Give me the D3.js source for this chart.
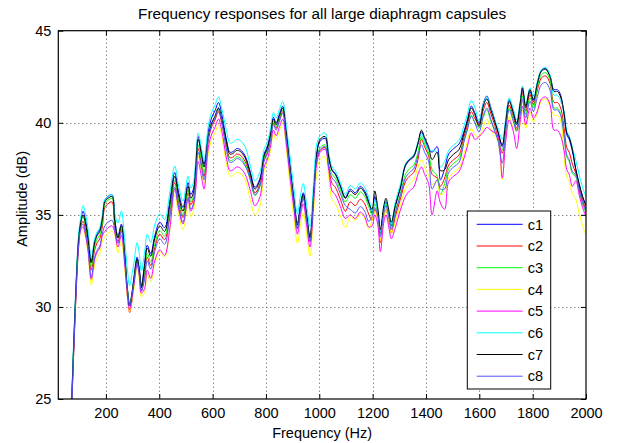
<!DOCTYPE html>
<html><head><meta charset="utf-8">
<script src="https://cdn.jsdelivr.net/npm/d3@7"></script>
<style>
html,body{margin:0;padding:0;background:#fff;}
text{font-family:"Liberation Sans",Arial,Helvetica,sans-serif;fill:#000;}
</style></head><body>
<svg id="chart" width="618" height="443"></svg>
<script>
const freq = [64,72,83,92,98,106,114,124,133,145,158,168,177,187,196,208,223,233,245,258,270,280,289,297,305,317,325,333,345,355,368,383,402,420,439,458,473,489,508,518,528,537,546,559,568,584,597,609,622,634,653,665,678,690,703,722,740,759,778,793,805,818,828,838,850,863,875,890,905,918,930,940,953,965,980,990,1003,1022,1035,1048,1060,1079,1098,1116,1135,1154,1170,1185,1198,1208,1220,1229,1242,1250,1260,1270,1285,1304,1323,1338,1354,1370,1383,1395,1410,1423,1442,1454,1470,1485,1504,1524,1543,1555,1570,1583,1599,1615,1628,1643,1658,1670,1686,1699,1712,1728,1740,1753,1762,1774,1790,1803,1818,1833,1849,1865,1880,1893,1905,1918,1928,1937,1949,1962,1974,1987,2000];

const c1 = [22.1,25.1,29.4,32.4,33.8,34.7,35.2,34.7,33.9,32.5,33.6,34.0,34.2,34.9,35.8,36.0,36.1,34.8,33.85,34.5,33.0,31.1,30.15,30.7,31.6,32.7,32.1,31.15,32.35,33.35,32.9,33.85,34.6,34.3,35.7,37.3,36.2,35.4,36.75,36.1,36.4,37.75,39.25,38.35,37.75,39.55,40.3,40.65,41.1,40.5,39.0,38.4,38.45,38.6,38.55,38.2,37.4,36.5,37.0,38.3,38.7,39.5,40.3,40.0,40.45,40.9,39.7,37.7,35.9,34.55,35.6,36.2,35.0,33.85,36.5,38.3,39.0,39.15,38.1,37.45,37.25,36.6,35.95,36.4,36.2,36.55,36.3,35.75,35.1,36.0,35.1,34.0,35.3,35.7,35.1,34.4,35.5,36.45,37.65,37.95,38.15,38.85,39.5,39.1,38.6,38.4,38.7,36.9,37.5,38.3,38.6,38.85,39.55,40.15,40.9,40.55,40.0,41.05,41.45,40.85,40.15,39.5,38.7,40.1,41.25,40.6,40.0,40.95,41.8,40.8,41.7,41.15,42.2,42.85,42.95,42.55,41.8,41.8,41.5,40.4,39.35,39.1,38.45,37.45,36.7,36.0,35.5];
const c2 = [21.8,24.8,29.1,32.1,33.5,34.4,34.65,34.15,33.35,32.0,33.1,33.5,33.7,34.4,35.4,35.6,35.7,34.4,33.55,34.2,32.7,30.65,29.7,30.25,31.35,32.45,31.85,30.9,31.7,32.7,32.25,33.2,33.95,33.65,35.05,36.75,35.65,34.85,36.2,35.55,35.85,37.1,38.6,37.7,37.1,39.05,39.8,40.15,40.6,40.0,38.7,38.1,38.15,38.3,38.25,37.9,37.1,36.2,36.7,38.0,38.4,39.2,40.0,39.7,40.15,40.6,39.4,37.4,35.6,34.25,35.3,35.9,34.7,33.55,36.2,38.0,38.5,38.65,37.6,36.7,36.5,35.85,35.2,35.7,35.5,35.85,35.6,35.05,34.7,35.3,34.7,33.5,34.9,35.3,34.7,34.0,34.9,35.85,36.8,37.1,37.3,38.0,39.1,38.7,38.2,37.2,37.0,36.55,37.0,37.7,38.0,38.25,39.25,39.85,40.6,40.25,39.9,40.7,41.1,40.5,39.85,39.2,38.35,39.8,40.95,40.3,39.7,40.78,41.63,40.63,41.53,40.98,41.79,42.44,42.54,42.14,41.1,41.1,40.8,39.7,38.65,38.4,37.75,37.25,36.5,35.8,35.3];
const c3 = [22.0,25.0,29.3,32.3,33.7,34.6,34.9,34.4,33.6,32.2,33.3,33.7,33.9,34.6,35.6,35.8,35.9,34.6,33.75,34.4,32.9,31.1,30.15,30.7,31.45,32.55,31.95,31.0,31.9,32.9,32.45,33.4,34.15,33.85,35.25,36.9,35.8,35.0,36.35,35.7,36.0,37.3,38.8,37.9,37.3,39.25,40.0,40.35,40.8,40.2,38.55,37.95,38.0,38.15,38.1,37.75,36.95,36.05,36.55,38.1,38.5,39.3,40.1,39.8,40.25,40.7,39.5,37.5,35.7,34.35,35.4,36.0,34.8,33.65,36.3,38.1,38.65,38.8,37.75,37.2,37.0,36.35,35.7,36.1,35.9,36.25,36.0,35.45,35.0,35.6,35.0,33.9,35.2,35.6,35.0,34.3,35.2,36.15,37.2,37.5,37.7,38.4,39.25,38.85,38.35,37.45,37.1,36.1,36.7,37.5,37.8,38.05,39.05,39.65,40.4,40.05,39.7,40.3,40.7,40.1,39.55,39.1,38.53,39.65,40.8,40.15,39.6,40.6,41.45,40.45,41.35,40.8,41.97,42.62,42.72,42.32,40.8,40.8,40.5,39.2,38.15,37.9,37.25,37.05,36.3,35.6,35.1];
const c4 = [21.5,24.5,28.8,31.8,33.2,34.1,34.2,33.7,32.9,31.2,32.3,32.7,32.9,33.6,33.8,34.0,34.1,33.9,32.95,33.6,32.1,30.7,29.75,30.3,31.0,32.1,31.5,30.55,30.8,31.8,31.35,32.3,33.0,32.7,34.1,36.1,35.0,34.2,35.55,34.9,35.2,36.7,38.2,37.3,36.7,38.35,39.1,39.45,39.9,39.3,37.7,37.1,37.15,37.3,37.25,36.9,35.9,35.0,35.5,37.4,37.8,38.6,39.4,39.1,39.55,40.0,38.8,36.6,34.8,33.45,34.5,35.1,33.9,32.75,35.4,37.2,38.0,38.15,37.1,35.8,35.6,34.95,34.3,34.9,34.7,35.05,34.8,34.25,34.7,35.2,34.7,33.6,34.9,35.3,34.7,34.0,34.6,35.55,36.4,36.7,36.9,37.6,38.0,37.6,37.1,36.65,36.8,36.1,36.2,37.0,37.3,37.55,38.35,38.95,39.7,39.35,39.25,39.8,40.2,39.6,39.25,39.0,36.9,39.2,40.35,39.7,39.54,39.85,40.7,39.7,40.6,40.05,40.55,41.2,41.3,40.9,40.4,40.4,40.1,38.1,37.05,36.8,36.15,35.85,35.1,34.4,33.9];
const c5 = [21.6,24.6,28.9,31.9,33.3,34.2,34.35,33.85,33.05,31.5,32.6,33.0,33.2,33.9,34.1,34.3,34.4,34.05,33.25,33.9,32.4,30.8,29.85,30.4,31.2,32.3,31.7,30.75,31.0,32.0,31.55,32.5,33.1,32.8,34.2,36.4,35.3,34.5,35.85,35.2,35.5,36.4,37.9,37.0,36.4,38.65,39.4,39.75,40.2,39.6,38.0,37.4,37.45,37.6,37.55,37.2,36.4,35.5,36.0,37.6,38.0,38.8,39.6,39.3,39.75,40.2,39.0,37.1,35.3,33.95,35.0,35.6,34.4,33.25,35.9,37.7,38.4,38.55,37.5,36.3,36.1,35.45,34.8,35.0,34.8,35.15,34.9,34.35,34.4,35.0,34.4,33.0,34.6,35.0,34.4,33.7,34.3,35.25,36.0,36.3,36.5,37.2,37.6,37.2,36.7,35.0,36.3,35.65,35.3,36.8,37.1,37.35,38.1,38.7,39.45,39.1,39.25,39.5,39.75,39.6,39.45,39.3,37.0,39.0,40.15,39.5,38.6,40.05,40.9,39.9,40.8,40.25,40.65,41.3,41.4,41.0,39.6,39.6,39.3,38.5,37.45,37.2,36.55,36.85,36.1,35.4,34.9];
const c6 = [22.3,25.3,29.6,32.6,34.0,34.9,35.5,35.0,34.2,32.6,33.7,34.1,34.3,35.0,35.8,36.0,36.1,35.1,34.55,35.2,33.7,32.1,31.15,31.7,32.4,33.5,32.9,31.95,32.95,33.95,33.5,34.45,35.05,34.75,36.15,37.65,36.55,35.75,37.1,36.45,36.75,37.95,39.45,38.55,37.95,39.85,40.6,40.95,41.4,40.8,39.5,38.9,38.95,39.1,39.05,38.7,37.75,36.85,37.35,38.55,38.95,39.75,40.55,40.25,40.7,41.15,39.95,38.2,36.4,35.05,36.1,36.7,35.5,34.35,37.0,38.8,39.3,39.45,38.4,37.6,37.4,36.75,36.1,36.6,36.4,36.75,36.5,35.95,35.2,35.8,35.2,34.1,35.4,35.8,35.2,34.5,35.7,36.65,37.75,38.05,38.25,38.95,39.4,39.0,38.5,38.5,38.4,37.6,37.9,38.5,38.8,39.05,39.85,40.45,41.2,40.85,40.1,41.0,41.4,40.8,40.15,39.7,39.1,40.2,41.35,40.7,40.17,41.15,42.0,41.0,41.9,41.35,42.25,42.9,43.0,42.6,41.5,41.5,41.2,40.6,39.55,39.3,38.65,37.95,37.2,36.5,36.0];
const c7 = [22.0,25.0,29.3,32.3,33.7,34.6,35.0,34.5,33.7,32.4,33.5,33.9,34.1,34.8,35.7,35.9,36.0,34.7,33.75,34.4,32.9,31.0,30.05,30.6,31.5,32.6,32.0,31.05,32.2,33.2,32.75,33.7,34.4,34.1,35.5,37.1,36.0,35.2,36.55,35.9,36.2,37.6,39.1,38.2,37.6,39.25,40.0,40.35,40.8,40.2,38.9,38.3,38.35,38.5,38.45,38.1,37.3,36.4,36.9,38.2,38.6,39.4,40.2,39.9,40.35,40.8,39.6,37.6,35.8,34.45,35.5,36.1,34.9,33.75,36.4,38.2,39.1,39.25,38.2,37.4,37.2,36.55,35.9,36.3,36.1,36.45,36.2,35.65,35.3,36.3,35.3,34.2,35.5,35.9,35.3,34.6,35.5,36.45,37.7,38.0,38.2,38.9,39.6,39.2,38.7,38.0,38.4,37.4,37.45,38.0,38.3,38.55,39.45,40.05,40.8,40.45,39.8,40.9,41.3,40.7,40.05,39.5,38.8,40.0,41.15,40.5,39.9,41.05,41.9,40.9,41.8,41.25,42.15,42.8,42.9,42.5,41.7,41.7,41.4,40.5,39.45,39.2,38.55,37.45,36.7,36.0,35.5];
const c8 = [21.7,24.7,29.0,32.0,33.4,34.3,34.5,34.0,33.2,31.6,32.7,33.1,33.3,34.0,34.4,34.6,34.7,34.2,33.45,34.1,32.6,31.0,30.05,30.6,31.3,32.4,31.8,30.85,31.5,32.5,32.05,33.0,33.7,33.4,34.8,36.5,35.4,34.6,35.95,35.3,35.6,36.9,38.4,37.5,36.9,39.15,39.9,40.25,40.7,40.1,38.45,37.85,37.9,38.05,38.0,37.65,37.0,36.1,36.6,37.9,38.3,39.1,39.9,39.6,40.05,40.5,39.3,37.4,35.6,34.25,35.3,35.9,34.7,33.55,36.2,38.0,38.55,38.7,37.65,37.0,36.8,36.15,35.5,35.3,35.1,35.45,35.2,34.65,34.9,35.4,34.9,33.8,35.1,35.5,34.9,34.2,35.1,36.05,37.0,37.3,37.5,38.2,38.8,38.4,37.9,36.4,36.9,36.4,36.4,37.3,37.6,37.85,39.0,39.6,40.35,40.0,39.5,40.4,40.8,40.2,39.55,39.0,37.8,39.55,40.7,40.05,39.54,40.42,41.27,40.27,41.17,40.62,41.43,42.08,42.18,41.78,40.7,40.7,40.4,39.3,38.25,38.0,37.35,37.15,36.4,35.7,35.2];

const seriesNames = ["c1","c2","c3","c4","c5","c6","c7","c8"];
const seriesValues = [c1,c2,c3,c4,c5,c6,c7,c8];
const seriesColors = ["#0000ff","#ff0000","#00ff00","#ffff00","#ff00ff","#00ffff","#000000","#5555ff"];
const xTicks = [200,400,600,800,1000,1200,1400,1600,1800,2000];
const yTicks = [25,30,35,40,45];
const titleText = "Frequency responses for all large diaphragm capsules";
const xLabel = "Frequency (Hz)";
const yLabel = "Amplitude (dB)";

const svg = d3.select("#chart");
const L = 58.3, R = 586, T = 30.7, B = 399;
const x = d3.scaleLinear().domain([21.5, 2000]).range([L, R]);
const y = d3.scaleLinear().domain([25, 45]).range([B, T]);

svg.append("rect").attr("width",618).attr("height",443).attr("fill","#fff");
svg.append("defs").append("clipPath").attr("id","clip")
  .append("rect").attr("x",L).attr("y",T).attr("width",R-L).attr("height",B-T);

// grid
const grid = svg.append("g").attr("stroke","#555").attr("stroke-width",1).attr("stroke-dasharray","1,3");
xTicks.filter(t => x(t) < R - 1).forEach(t => {
  grid.append("line").attr("x1",Math.round(x(t))+0.5).attr("x2",Math.round(x(t))+0.5).attr("y1",T).attr("y2",B);
});
yTicks.filter(t => y(t) > T + 1 && y(t) < B - 1).forEach(t => {
  grid.append("line").attr("y1",Math.round(y(t))+0.5).attr("y2",Math.round(y(t))+0.5).attr("x1",L).attr("x2",R);
});

// lines
const line = d3.line().x((d,i) => x(freq[i])).y(d => y(d)).curve(d3.curveCatmullRom.alpha(0.5));
const lg = svg.append("g").attr("clip-path","url(#clip)");
seriesValues.forEach((vals, k) => {
  lg.append("path").attr("d", line(vals)).attr("fill","none")
    .attr("stroke", seriesColors[k]).attr("stroke-width",1);
});

// axes (ticks inside, on all four sides)
const fontSize = "14.5px";
const fmt = d3.format("d");
const axB = d3.axisBottom(x).tickValues(xTicks).tickSize(-5).tickPadding(9).tickFormat(fmt);
const axT = d3.axisTop(x).tickValues(xTicks).tickSize(-5).tickFormat("");
const axL = d3.axisLeft(y).tickValues(yTicks).tickSize(-5).tickPadding(7).tickFormat(fmt);
const axR = d3.axisRight(y).tickValues(yTicks).tickSize(-5).tickFormat("");
function style(g){ g.select(".domain").remove(); g.selectAll("line").attr("stroke","#000");
  g.selectAll("text").style("font-size",fontSize).attr("fill","#000").style("font-family",'"Liberation Sans",Arial,sans-serif'); }
svg.append("g").attr("transform",`translate(0,${B})`).call(axB).call(style);
svg.append("g").attr("transform",`translate(0,${T})`).call(axT).call(style);
svg.append("g").attr("transform",`translate(${L},0)`).call(axL).call(style);
svg.append("g").attr("transform",`translate(${R},0)`).call(axR).call(style);
svg.append("rect").attr("x",L).attr("y",T).attr("width",R-L).attr("height",B-T)
  .attr("fill","none").attr("stroke","#000").attr("stroke-width",1.2);

// title & labels
svg.append("text").attr("x",(L+R)/2).attr("y",19).attr("text-anchor","middle").style("font-size","15.3px").text(titleText);
svg.append("text").attr("x",(L+R)/2).attr("y",438).attr("text-anchor","middle").style("font-size",fontSize).text(xLabel);
svg.append("text").attr("transform",`translate(27,${(T+B)/2 - 16}) rotate(-90)`).attr("text-anchor","middle").style("font-size",fontSize).text(yLabel);

// legend
const lx = 467.3, ly = 211, lw = 83.4, lh = 178;
const leg = svg.append("g");
leg.append("rect").attr("x",lx).attr("y",ly).attr("width",lw).attr("height",lh).attr("fill","#fff").attr("stroke","#000").attr("stroke-width",1);
seriesNames.forEach((n,i) => {
  const yy = ly + 13.3 + i*21.7;
  leg.append("line").attr("x1",lx+9.4).attr("x2",lx+55.4).attr("y1",yy).attr("y2",yy).attr("stroke",seriesColors[i]).attr("stroke-width",1);
  leg.append("text").attr("x",lx+60.4).attr("y",yy).attr("dy","0.36em").style("font-size",fontSize).text(n);
});
</script>
</body></html>
